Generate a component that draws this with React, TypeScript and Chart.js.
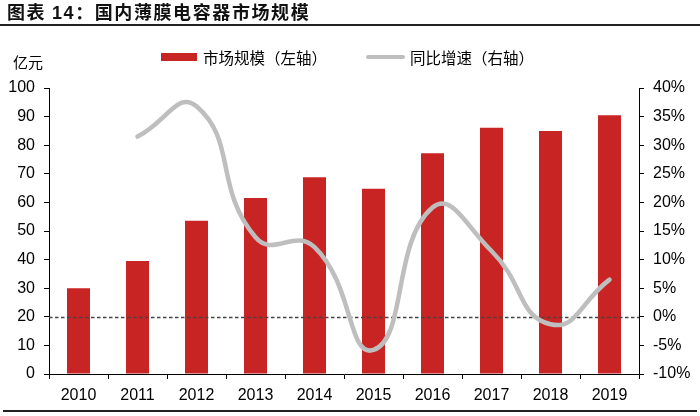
import React, { useEffect, useRef } from "react";
import { Chart, registerables } from "chart.js";

Chart.register(...registerables);

const years = ["2010", "2011", "2012", "2013", "2014", "2015", "2016", "2017", "2018", "2019"];
const marketSize = [30, 39.5, 53.6, 61.5, 68.8, 64.8, 77.2, 86.1, 85.0, 90.5];
const yoyGrowth = [null, 31.5, 36.8, 13.9, 12.2, -5.8, 19.1, 11.5, -1.3, 6.5];
const leftMin = 0;
const leftMax = 100;
const leftStep = 10;
const rightMin = -10;
const rightMax = 40;
const rightStep = 5;

const BAR_RED = "#C82423";
const LINE_GREY = "#BEBEBE";
const NUM_FONT = '"Liberation Sans", Arial, sans-serif';
const CJK_FONT = '"Noto Sans CJK SC", sans-serif';

const zeroLinePlugin = {
  id: "zeroLine",
  afterDatasetDraw(chart: any, args: any) {
    if (args.meta.type !== "bar") return;
    const y1 = chart.scales.y1;
    const area = chart.chartArea;
    const y = Math.round(y1.getPixelForValue(0)) + 0.5;
    const ctx = chart.ctx;
    ctx.save();
    ctx.strokeStyle = "#444";
    ctx.lineWidth = 1.3;
    ctx.setLineDash([3.5, 2.5]);
    ctx.beginPath();
    ctx.moveTo(area.left, y);
    ctx.lineTo(area.right, y);
    ctx.stroke();
    ctx.restore();
  },
};

export default function App() {
  const canvasRef = useRef<HTMLCanvasElement | null>(null);

  useEffect(() => {
    const prevMargin = document.body.style.margin;
    document.body.style.margin = "0";
    const canvas = canvasRef.current;
    if (!canvas) return;
    const chart = new Chart(canvas, {
      type: "bar",
      data: {
        labels: years,
        datasets: [
          {
            type: "line",
            label: "同比增速（右轴）",
            data: yoyGrowth,
            yAxisID: "y1",
            borderColor: LINE_GREY,
            backgroundColor: LINE_GREY,
            borderWidth: 4.5,
            pointRadius: 0,
            tension: 0.5,
            borderCapStyle: "round",
            spanGaps: false,
            order: 0,
          } as any,
          {
            type: "bar",
            label: "市场规模（左轴）",
            data: marketSize,
            yAxisID: "y",
            backgroundColor: BAR_RED,
            borderWidth: 0,
            categoryPercentage: 1,
            barPercentage: 0.39,
            order: 1,
          } as any,
        ],
      },
      options: {
        responsive: false,
        animation: false,
        devicePixelRatio: 1,
        layout: { padding: { top: 88, left: 0, right: 0, bottom: 0 } },
        plugins: {
          legend: { display: false },
          tooltip: { enabled: false },
          title: { display: false },
        },
        scales: {
          x: {
            offset: true,
            grid: {
              offset: true,
              drawOnChartArea: false,
              drawTicks: true,
              tickLength: 5,
              tickColor: "#000",
              tickWidth: 1,
            },
            border: { display: true, color: "#000", width: 1 },
            ticks: {
              color: "#000",
              font: { family: NUM_FONT, size: 16 },
              padding: 7,
              maxRotation: 0,
              autoSkip: false,
            },
            afterFit: (s: any) => {
              s.height = 42;
            },
          },
          y: {
            position: "left",
            min: leftMin,
            max: leftMax,
            grid: {
              drawOnChartArea: false,
              drawTicks: true,
              tickLength: 5,
              tickColor: "#000",
            },
            border: { display: true, color: "#000", width: 1 },
            ticks: {
              stepSize: leftStep,
              color: "#000",
              font: { family: NUM_FONT, size: 16 },
              padding: 9,
            },
            afterFit: (s: any) => {
              s.width = 49;
            },
          },
          y1: {
            position: "right",
            min: rightMin,
            max: rightMax,
            grid: {
              drawOnChartArea: false,
              drawTicks: true,
              tickLength: 5,
              tickColor: "#000",
            },
            border: { display: true, color: "#000", width: 1 },
            ticks: {
              stepSize: rightStep,
              color: "#000",
              font: { family: NUM_FONT, size: 16 },
              padding: 9,
              callback: (v: any) => `${v}%`,
            },
            afterFit: (s: any) => {
              s.width = 61;
            },
          },
        },
      } as any,
      plugins: [zeroLinePlugin],
    });
    return () => {
      chart.destroy();
      document.body.style.margin = prevMargin;
    };
  }, []);

  const abs = (o: React.CSSProperties): React.CSSProperties => ({ position: "absolute", ...o });

  return (
    <div style={{ position: "absolute", left: 0, top: 0, width: 700, height: 416, background: "#fff", overflow: "hidden" }}>
      <canvas ref={canvasRef} width={700} height={416} style={{ position: "absolute", left: 0, top: 0, width: 700, height: 416 }} />
      <div
        style={abs({
          left: 7,
          top: 2,
          fontFamily: CJK_FONT,
          fontWeight: 700,
          fontSize: 18,
          lineHeight: "18px",
          letterSpacing: "1.6px",
          color: "#111",
          whiteSpace: "nowrap",
        })}
      >
        图表 <span style={{ fontFamily: NUM_FONT }}>14</span>：国内薄膜电容器市场规模
      </div>
      <div style={abs({ left: 0, top: 24, width: 700, height: 2, background: "#222" })} />
      <div style={abs({ left: 3, top: 410, width: 694, height: 2, background: "#222" })} />
      <div
        style={abs({ left: 13, top: 53, fontFamily: CJK_FONT, fontSize: 15, lineHeight: "18px", color: "#000", whiteSpace: "nowrap" })}
      >
        亿元
      </div>
      <div style={abs({ left: 161, top: 53, width: 36, height: 8, background: BAR_RED })} />
      <div
        style={abs({ left: 203, top: 48, fontFamily: CJK_FONT, fontSize: 15.5, lineHeight: "18px", color: "#000", whiteSpace: "nowrap" })}
      >
        市场规模（左轴）
      </div>
      <div style={abs({ left: 366, top: 55, width: 39, height: 4, borderRadius: 2, background: LINE_GREY })} />
      <div
        style={abs({ left: 410, top: 48, fontFamily: CJK_FONT, fontSize: 15.5, lineHeight: "18px", color: "#000", whiteSpace: "nowrap" })}
      >
        同比增速（右轴）
      </div>
    </div>
  );
}
